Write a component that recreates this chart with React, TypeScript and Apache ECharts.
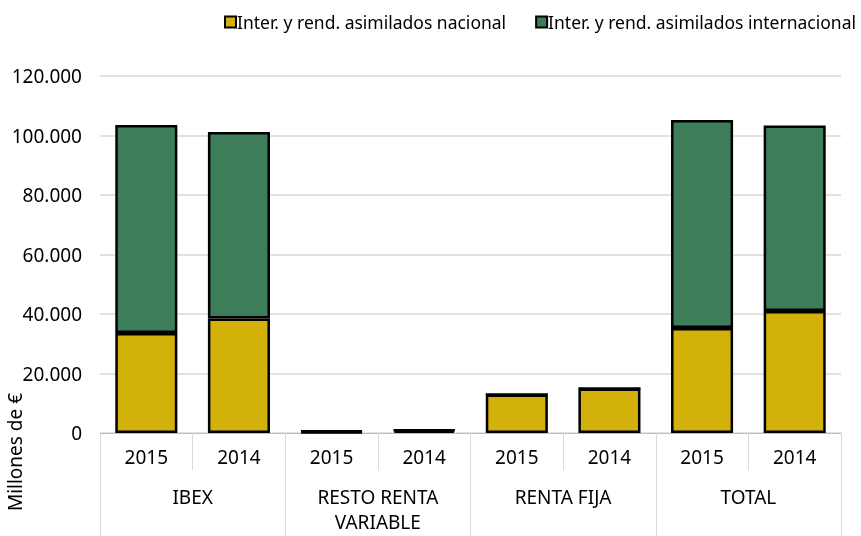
import React, { useEffect, useRef } from "react";
import * as echarts from "echarts";

const years = ["2015", "2014", "2015", "2014", "2015", "2014", "2015", "2014"];
const groups = ["IBEX", "RESTO RENTA\nVARIABLE", "RENTA FIJA", "TOTAL"];
const nacional = [33600, 38500, 400, 800, 12900, 15000, 35300, 41000];
const internacional = [69900, 62700, 300, 200, 0, 0, 69900, 62400];
const seriesNames = ["Inter. y rend. asimilados nacional", "Inter. y rend. asimilados internacional"];

const FONT = "Noto Sans";

export default function App() {
  const ref = useRef<HTMLDivElement>(null);
  useEffect(() => {
    const chart = echarts.init(ref.current!, null, { renderer: "svg" });
    const fmt = (v: number) => (v === 0 ? "0" : String(v).replace(/\B(?=(\d{3})+(?!\d))/g, "."));
    chart.setOption({
      animation: false,
      textStyle: { fontFamily: FONT },
      legend: {
        top: 8,
        right: 0,
        itemWidth: 11,
        itemHeight: 11,
        itemGap: 29,
        icon: "rect",
        textStyle: { fontSize: 17.5, color: "#000", fontFamily: FONT, padding: [0, 0, 0, -4] },
        data: seriesNames,
      },
      grid: { left: 100, right: 20, top: 76, bottom: 103 },
      xAxis: [
        {
          type: "category",
          data: years,
          axisLine: { show: true, lineStyle: { color: "#bfbfbf", width: 1 } },
          axisTick: { show: true, length: 37, lineStyle: { color: "#d9d9d9" } },
          axisLabel: { fontSize: 19, color: "#000", margin: 14, fontFamily: FONT },
        },
        {
          type: "category",
          data: groups,
          position: "bottom",
          offset: 37,
          axisLine: { show: false },
          axisTick: { show: true, length: 66, lineStyle: { color: "#d9d9d9" } },
          axisLabel: { fontSize: 19, color: "#000", margin: 14, lineHeight: 25, fontFamily: FONT },
        },
      ],
      yAxis: {
        type: "value",
        min: 0,
        max: 120000,
        interval: 20000,
        axisLine: { show: false },
        axisTick: { show: false },
        axisLabel: { fontSize: 19, color: "#000", margin: 18, formatter: fmt, fontFamily: FONT },
        splitLine: { lineStyle: { color: "#d9d9d9", width: 1.5 } },
      },
      graphic: [
        {
          type: "text",
          x: 15,
          y: 452,
          rotation: Math.PI / 2,
          style: {
            text: "Millones de €",
            fontSize: 19,
            fontFamily: FONT,
            fill: "#000",
            align: "center",
            verticalAlign: "middle",
          },
        },
      ],
      series: [
        {
          name: seriesNames[0],
          type: "bar",
          stack: "a",
          barWidth: "67%",
          data: nacional,
          itemStyle: { color: "#D2B10A", borderColor: "#000", borderWidth: 2.5 },
        },
        {
          name: seriesNames[1],
          type: "bar",
          stack: "a",
          barWidth: "67%",
          data: internacional,
          itemStyle: { color: "#3E7D5A", borderColor: "#000", borderWidth: 2.5 },
        },
      ],
    });
    return () => chart.dispose();
  }, []);
  return (
    <div
      ref={ref}
      style={{ position: "fixed", left: 0, top: 0, width: 861, height: 536 }}
    />
  );
}
